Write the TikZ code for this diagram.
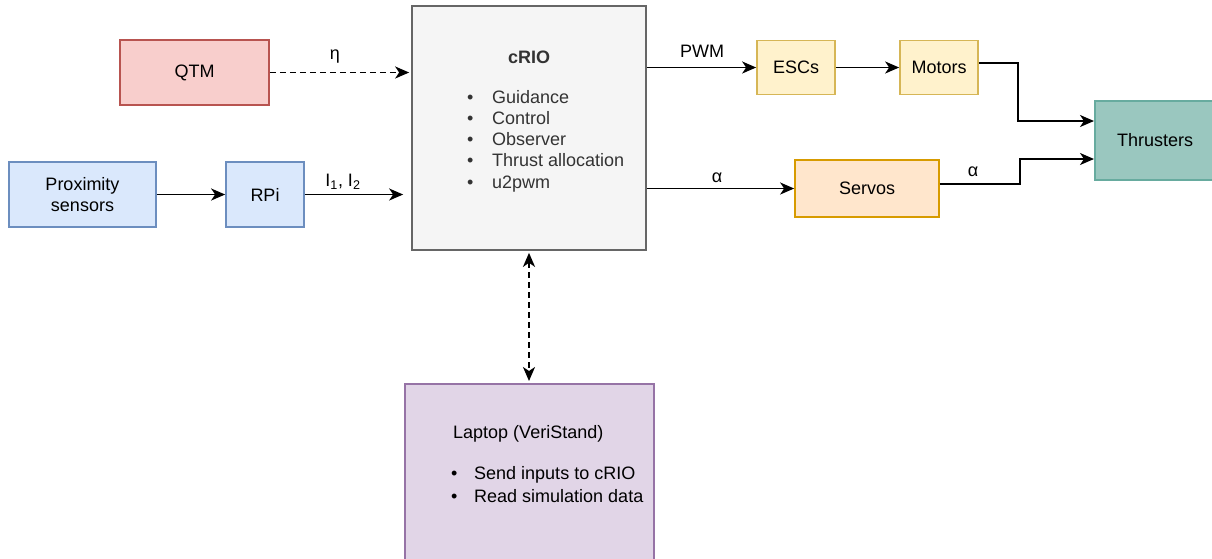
\documentclass[tikz,border=0pt]{standalone}
\usepackage{fontspec}
\setmainfont{Liberation Sans}
\usetikzlibrary{arrows.meta}
\definecolor{redfill}{HTML}{F8CECC}\definecolor{reddraw}{HTML}{B85450}
\definecolor{bluefill}{HTML}{DAE8FC}\definecolor{bluedraw}{HTML}{6C8EBF}
\definecolor{greyfill}{HTML}{F5F5F5}\definecolor{greydraw}{HTML}{666666}\definecolor{greytext}{HTML}{333333}
\definecolor{yelfill}{HTML}{FFF2CC}\definecolor{yeldraw}{HTML}{D6B656}
\definecolor{orafill}{HTML}{FFE6CC}\definecolor{oradraw}{HTML}{D79B00}
\definecolor{tealfill}{HTML}{9AC7BF}\definecolor{tealdraw}{HTML}{67AB9F}
\definecolor{purfill}{HTML}{E1D5E7}\definecolor{purdraw}{HTML}{9673A6}
\begin{document}
\begin{tikzpicture}[x=1pt,y=-1pt,
  every node/.style={font=\fontsize{18}{21.6}\selectfont, inner sep=0pt},
  box/.style={draw, line width=1.7pt, align=center},
  lbl/.style={},
  itemtxt/.style={anchor=west, text height=13pt, text depth=4pt},
  tip/.tip={Stealth[length=14pt,width=12pt,inset=4pt]},
  conn/.style={line width=1.9pt, -tip},
  dconn/.style={conn, dash pattern=on 6pt off 4pt}
]
\useasboundingbox (0,0) rectangle (1212,558);
% boxes
\node[box, fill=redfill, draw=reddraw, minimum width=149pt, minimum height=65pt] (qtm) at (194.5,72.5) {QTM};
\node[box, fill=bluefill, draw=bluedraw, minimum width=147pt, minimum height=65pt] (prox) at (82.5,194.5) {Proximity\\sensors};
\node[box, fill=bluefill, draw=bluedraw, minimum width=78pt, minimum height=65pt] (rpi) at (265,194.5) {RPi};
\node[box, fill=greyfill, draw=greydraw, minimum width=234pt, minimum height=244pt] (crio) at (529,128) {};
\node[box, fill=yelfill, draw=yeldraw, minimum width=78pt, minimum height=54pt] (escs) at (796,67.5) {ESCs};
\node[box, fill=yelfill, draw=yeldraw, minimum width=78pt, minimum height=54pt] (motors) at (939,67.5) {Motors};
\node[box, fill=orafill, draw=oradraw, minimum width=144pt, minimum height=57pt] (servos) at (867,188.5) {Servos};
\node[box, fill=tealfill, draw=tealdraw, minimum width=122pt, minimum height=79pt, anchor=west] (thrusters) at (1094,140.5) {};
\node (thrtxt) at (1155,140.5) {Thrusters};
\node[box, fill=purfill, draw=purdraw, minimum width=249pt, minimum height=230pt, anchor=north west] (laptop) at (404,383) {};
% cRIO text
\node[text=greytext, font=\fontsize{18}{21.6}\selectfont\bfseries] (criotitle) at (529,57) {cRIO};
\foreach \t [count=\i] in {Guidance,Control,Observer,Thrust allocation,u2pwm}
  \node[itemtxt, text=greytext] (ci\i) at (467,77.5+21.2*\i) {\makebox[25pt][l]{\textbullet}\t};
% laptop text
\node[itemtxt] (laptitle) at (453,434) {Laptop (VeriStand)};
\node[itemtxt] (lap1) at (451,475) {\makebox[23pt][l]{\textbullet}Send inputs to cRIO};
\node[itemtxt] (lap2) at (451,498) {\makebox[23pt][l]{\textbullet}Read simulation data};
% connectors
\draw[dconn, shorten >=2pt] (qtm.east) -- (qtm.east -| crio.west);
\draw[conn] (prox.east) -- (rpi.west);
\draw[conn, shorten >=8pt] (rpi.east) -- (rpi.east -| crio.west);
\draw[conn] (crio.east |- escs.west) -- (escs.west);
\draw[conn] (escs.east) -- (motors.west);
\draw[conn] (crio.east |- servos.west) -- (servos.west);
\draw[conn] ([yshift=4.5pt]motors.east) -- ++(39,0) |- ([yshift=19.5pt]thrusters.west);
\draw[conn] ([yshift=4.5pt]servos.east) -- ++(80,0) |- ([yshift=-18.5pt]thrusters.west);
\draw[dconn, tip-tip, shorten <=2pt, shorten >=2pt] (crio.south) -- (crio.south |- laptop.north);
% labels
\node[lbl] (eta) at (335,57) {η};
\node[lbl] (ilab) at (343,182) {I\textsubscript{1}, I\textsubscript{2}};
\node[lbl] (pwm) at (702,51) {PWM};
\node[lbl] (al1) at (717,178) {α};
\node[lbl] (al2) at (973,172) {α};
\end{tikzpicture}
\end{document}
